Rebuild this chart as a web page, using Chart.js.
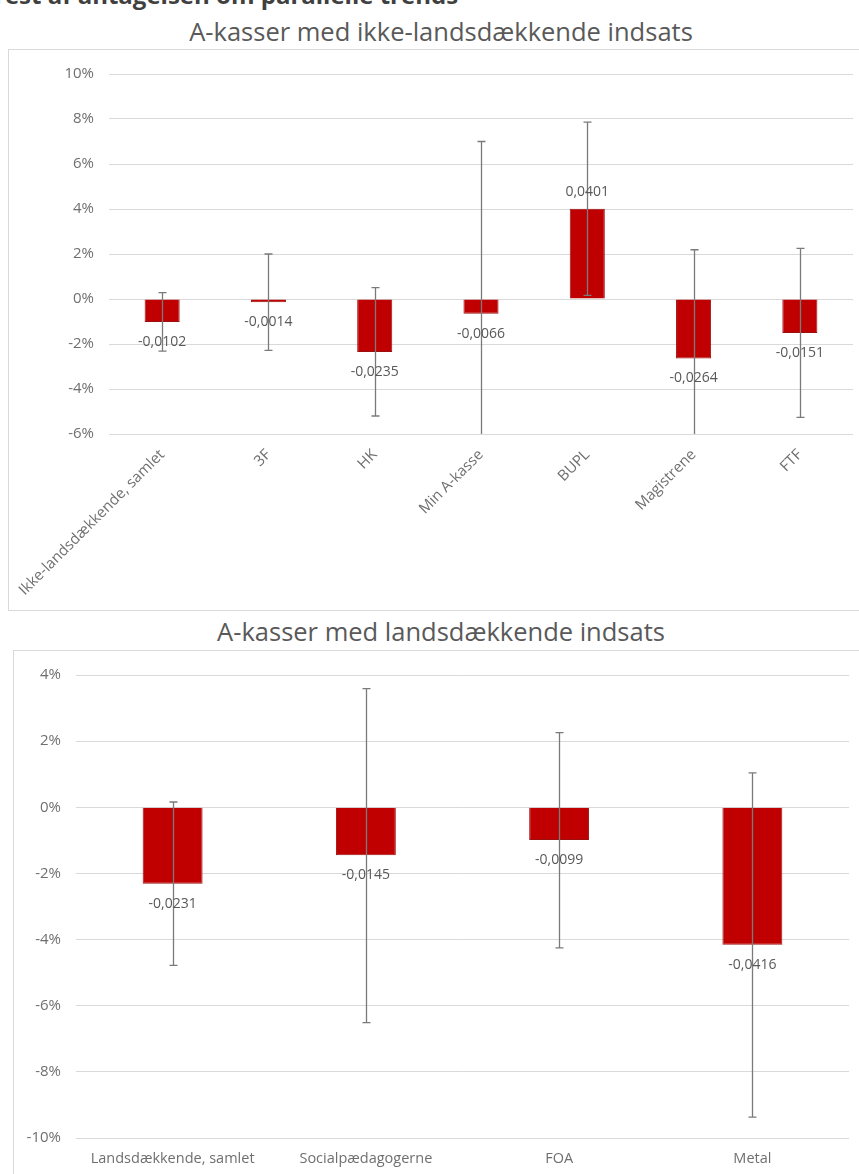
<!DOCTYPE html>
<html>
<head>
<meta charset="utf-8">
<script src="https://cdn.jsdelivr.net/npm/chart.js@4"></script>
<style>
body { margin: 0; background: #fff; width: 859px; height: 1174px; overflow: hidden; position: relative; font-family: "Open Sans", sans-serif; }
.head { position: absolute; left: -9px; top: -22px; font-weight: bold; font-size: 24px; color: #404040; white-space: nowrap; }
.title { position: absolute; left: 0; width: 882px; text-align: center; font-size: 25.5px; line-height: 35px; color: #595959; white-space: nowrap; }
.box { position: absolute; border: 1px solid #d9d9d9; background: #fff; }
.box canvas { display: block; }
</style>
</head>
<body>
<div class="head">Test af antagelsen om parallelle trends</div>

<div class="title" style="top:14px">A-kasser med ikke-landsdækkende indsats</div>
<div class="box" style="left:8px; top:49px; width:860px; height:560px;">
  <canvas id="topChart" width="850" height="560"></canvas>
</div>

<div class="title" style="top:614px">A-kasser med landsdækkende indsats</div>
<div class="box" style="left:13px; top:650px; width:855px; height:540px;">
  <canvas id="bottomChart" width="845" height="530"></canvas>
</div>

<script>
// Ikke-landsdaekkende indsats
const topLabels = ['Ikke-landsdækkende, samlet', '3F', 'HK', 'Min A-kasse', 'BUPL', 'Magistrene', 'FTF'];
const topValues = [-0.0102, -0.0014, -0.0235, -0.0066, 0.0401, -0.0264, -0.0151];
const topLow    = [-0.0232, -0.0228, -0.0520, -0.0830, 0.0016, -0.0750, -0.0526];
const topHigh   = [0.0028, 0.0200, 0.0051, 0.0700, 0.0786, 0.0219, 0.0225];

// Landsdaekkende indsats
const botLabels = ['Landsdækkende, samlet', 'Socialpædagogerne', 'FOA', 'Metal'];
const botValues = [-0.0231, -0.0145, -0.0099, -0.0416];
const botLow    = [-0.0478, -0.0651, -0.0425, -0.0937];
const botHigh   = [0.0016, 0.0359, 0.0226, 0.0104];

const font = '"Open Sans", sans-serif';
const grey = '#6f6f6f';

// error bars + value labels
const errorBars = {
    id: 'errorBars',
    afterDatasetsDraw(chart, args, opts) {
        const { ctx, chartArea, scales: { x, y } } = chart;
        ctx.save();
        ctx.beginPath();
        ctx.rect(chartArea.left, chartArea.top - 2, chartArea.width, chartArea.height + 2);
        ctx.clip();
        ctx.strokeStyle = '#7a7a7a';
        ctx.lineWidth = 1.3;
        opts.low.forEach((lo, i) => {
            const px = Math.round(x.getPixelForValue(i)) + 0.5;
            const yl = y.getPixelForValue(lo);
            const yh = y.getPixelForValue(opts.high[i]);
            ctx.beginPath();
            ctx.moveTo(px, yl); ctx.lineTo(px, yh);
            ctx.moveTo(px - 4, yh); ctx.lineTo(px + 4, yh);
            ctx.moveTo(px - 4, yl); ctx.lineTo(px + 4, yl);
            ctx.stroke();
        });
        ctx.restore();

        ctx.save();
        ctx.font = '14px ' + font;
        ctx.fillStyle = '#595959';
        ctx.textAlign = 'center';
        ctx.textBaseline = 'middle';
        const vals = chart.data.datasets[0].data;
        vals.forEach((v, i) => {
            const px = x.getPixelForValue(i);
            const py = y.getPixelForValue(v);
            const txt = v.toFixed(4).replace('.', ',');
            ctx.fillText(txt, px, v < 0 ? py + 20 : py - 17);
        });
        ctx.restore();
    }
};

function makeChart(id, labels, values, low, high, yMin, yMax, o) {
    return new Chart(document.getElementById(id), {
        type: 'bar',
        data: {
            labels: labels,
            datasets: [{
                data: values,
                backgroundColor: '#c00000',
                borderColor: '#9c1010',
                borderWidth: 1,
                categoryPercentage: 1,
                barPercentage: o.barPct
            }]
        },
        options: {
            responsive: false,
            animation: false,
            events: [],
            layout: { padding: { top: o.top, right: o.right, left: 0, bottom: 0 } },
            plugins: {
                legend: { display: false },
                tooltip: { enabled: false },
                errorBars: { low: low, high: high }
            },
            scales: {
                x: {
                    grid: { display: false, drawTicks: false },
                    border: { display: false },
                    ticks: {
                        autoSkip: false,
                        minRotation: o.rot, maxRotation: o.rot,
                        padding: o.xPad,
                        color: grey,
                        font: { family: font, size: o.xFont }
                    },
                    afterFit: s => { s.height = o.xHeight; s.paddingLeft = 0; s.paddingRight = 0; }
                },
                y: {
                    min: yMin, max: yMax,
                    grid: { color: '#d9d9d9', lineWidth: 1, drawTicks: false },
                    border: { display: false },
                    ticks: {
                        stepSize: 0.02,
                        padding: 15,
                        color: grey,
                        font: { family: font, size: 15 },
                        callback: v => Math.round(v * 100) + '%'
                    },
                    afterFit: s => { s.width = o.yWidth; }
                }
            }
        },
        plugins: [errorBars]
    });
}

makeChart('topChart', topLabels, topValues, topLow, topHigh, -0.06, 0.10,
    { barPct: 0.33, top: 19, right: 6, xHeight: 176, yWidth: 100, rot: 45, xPad: 12, xFont: 15 });
makeChart('bottomChart', botLabels, botValues, botLow, botHigh, -0.10, 0.04,
    { barPct: 0.31, top: 21, right: 10, xHeight: 43, yWidth: 62, rot: 0, xPad: 12, xFont: 14.5 });
</script>
</body>
</html>
